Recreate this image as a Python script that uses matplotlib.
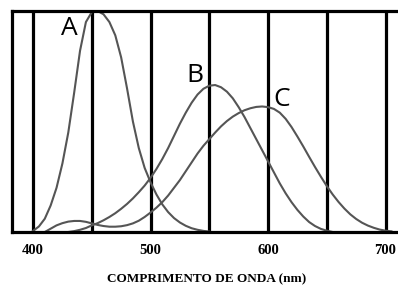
import numpy as np
import matplotlib
matplotlib.use("Agg")
import matplotlib.pyplot as plt

# wavelengths (nm) sampled every 5 nm
wl_a = np.arange(400, 555, 5)
curve_a = [0.005, 0.025, 0.06, 0.12, 0.20, 0.31, 0.45, 0.63, 0.82, 0.95,
           0.995, 1.0, 0.985, 0.95, 0.89, 0.79, 0.65, 0.50, 0.38, 0.29,
           0.225, 0.17, 0.125, 0.09, 0.063, 0.043, 0.028, 0.017, 0.01, 0.005,
           0.002]

wl_b = np.arange(430, 660, 5)
curve_b = [0.0, 0.004, 0.01, 0.018, 0.03, 0.04, 0.053, 0.068, 0.085, 0.105,
           0.127, 0.152, 0.18, 0.21, 0.245, 0.285, 0.33, 0.38, 0.435, 0.49,
           0.54, 0.585, 0.622, 0.648, 0.662, 0.665, 0.655, 0.635, 0.605, 0.565,
           0.52, 0.47, 0.42, 0.37, 0.32, 0.27, 0.22, 0.175, 0.135, 0.10,
           0.07, 0.045, 0.027, 0.014, 0.006, 0.0]

wl_c = np.arange(410, 710, 5)
curve_c = [0.0, 0.015, 0.03, 0.04, 0.047, 0.05, 0.05, 0.046, 0.039, 0.032,
           0.027, 0.024, 0.024, 0.026, 0.031, 0.039, 0.051, 0.068, 0.088, 0.11,
           0.135, 0.165, 0.20, 0.235, 0.275, 0.315, 0.355, 0.39, 0.42, 0.45,
           0.478, 0.502, 0.522, 0.538, 0.551, 0.56, 0.566, 0.568, 0.565, 0.557,
           0.54, 0.512, 0.475, 0.432, 0.387, 0.34, 0.294, 0.25, 0.208, 0.17,
           0.136, 0.106, 0.08, 0.059, 0.042, 0.029, 0.019, 0.011, 0.006, 0.003]

grid_wl = [400, 450, 500, 550, 600, 650, 700]
tick_wl = [400, 500, 600, 700]

fig = plt.figure(figsize=(3.98, 2.85), dpi=100)
ax = fig.add_axes([12 / 398, 53 / 285, 1 - 12 / 398 + 0.01, 221 / 285])

for w in grid_wl:
    ax.axvline(w, color="black", lw=2.3, zorder=1)

line_kw = dict(color="#555555", lw=1.5, zorder=2)
ax.plot(wl_a, curve_a, **line_kw)
ax.plot(wl_b, curve_b, **line_kw)
ax.plot(wl_c, curve_c, **line_kw)

lab_kw = dict(fontsize=19, family="Open Sans", color="black", ha="center", va="center")
ax.text(431, 0.92, "A", **lab_kw)
ax.text(538, 0.71, "B", **lab_kw)
ax.text(612, 0.60, "C", **lab_kw)

ax.set_xlim(382.1, 714)
ax.set_ylim(0, 1.0)
ax.set_yticks([])
ax.set_xticks(tick_wl)
ax.set_xticklabels([str(t) for t in tick_wl], family="Liberation Serif",
                   fontweight="bold", fontsize=10.5)
ax.tick_params(axis="x", length=0, pad=9)
ax.set_xlabel("COMPRIMENTO DE ONDA (nm)", family="Liberation Serif",
              fontweight="bold", fontsize=9.5)
ax.xaxis.set_label_coords((204.5 - 12) / 386, -0.186)

for side in ["left", "top", "bottom"]:
    ax.spines[side].set_linewidth(2.3)
ax.spines["right"].set_visible(False)

fig.savefig("out.png", dpi=100)
